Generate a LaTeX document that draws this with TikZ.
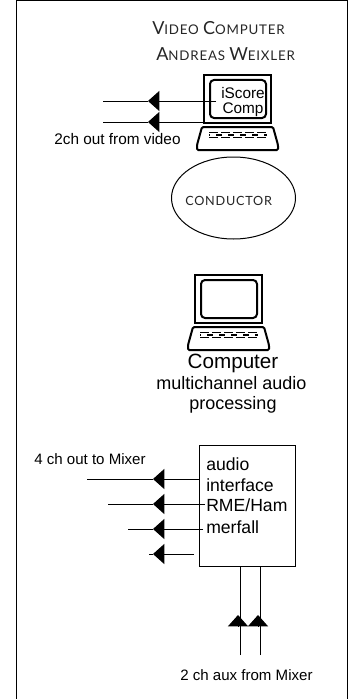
\documentclass[tikz,border=0pt]{standalone}
\usepackage{fontspec}
\setmainfont{Liberation Sans}
\newfontfamily\capsfont[LetterSpace=6]{Lato}
\usetikzlibrary{arrows.meta,shapes.geometric}
\newcommand{\capsword}[2]{{\fontsize{13.5}{16}\selectfont #1}{\fontsize{10}{16}\selectfont #2}}
\tikzset{
  wire/.style={line width=0.75pt},
  headwire/.style={line width=0.75pt,-{Triangle[length=8.5pt,width=15pt]}},
  lbl/.style={inner sep=0pt,font=\fontsize{11.5}{12}\selectfont},
  boxlbl/.style={inner sep=0pt,anchor=west,font=\fontsize{13.2}{14}\selectfont},
  mixlbl/.style={inner sep=0pt,anchor=west,font=\fontsize{11.3}{14}\selectfont},
  audiolbl/.style={inner sep=0pt,font=\fontsize{13.5}{14}\selectfont},
  capslbl/.style={inner sep=0pt,anchor=west,text=black!85,font=\capsfont},
  computer/.pic={
    \draw[line width=1.5pt] (0,0) rectangle (67,48);
    \draw[line width=1.5pt,rounded corners=3pt] (6,5) rectangle (62,43);
    \draw[line width=1.5pt,rounded corners=1pt] (-7,75) -- (-7,70) -- (-2,52) -- (69,52) -- (74,70) -- (74,75) -- cycle;
    \draw[line width=1.1pt,dash pattern=on 6.5pt off 2.5pt] (5,57.5) -- (63,57.5);
    \draw[line width=1.1pt,dash pattern=on 6.5pt off 2.5pt] (5,62.5) -- (63,62.5);
    \draw[line width=0.9pt,dash pattern=on 4pt off 5pt,dash phase=-5.5pt] (5,60) -- (63,60);
  }
}
\begin{document}
\begin{tikzpicture}[x=0.75pt,y=-0.75pt]
\useasboundingbox (0,0) rectangle (349,699);
\draw[line width=0.75pt] (16,699) -- (16,1) -- (347,1) -- (347,699);

% video computer
\node[capslbl] (vidtitle) at (152,28) {\capsword{V}{IDEO} \capsword{C}{OMPUTER}};
\node[capslbl] (vidname) at (156,54) {\capsword{A}{NDREAS} \capsword{W}{EIXLER}};
\pic at (204,75) {computer};
\node[lbl] (vidscreen1) at (243,93.5) {iScore};
\node[lbl] (vidscreen2) at (243,109.5) {Comp};
\node[lbl] (vidout) at (117.5,139.5) {2ch out from video};

\coordinate (vidstart1) at (216,101);
\coordinate (vidstart2) at (204,122);
\coordinate (vidtip1) at (148,101);
\coordinate (vidtip2) at (148,122);
\coordinate (vidend1) at (103,101);
\coordinate (vidend2) at (103,122);
\draw[headwire] (vidstart1) -- (vidtip1);
\draw[wire] (vidtip1) -- (vidend1);
\draw[headwire] (vidstart2) -- (vidtip2);
\draw[wire] (vidtip2) -- (vidend2);

\node[draw,ellipse,line width=0.75pt,minimum width=93pt,minimum height=61.5pt,inner sep=0pt] (conductor) at (233.5,198) {};
\node[capslbl,font=\capsfont\fontsize{9.5}{12}\selectfont] (conductorlbl) at (185,200.5) {CONDUCTOR};

% audio computer
\pic at (195,275) {computer};
\node[audiolbl,font=\fontsize{15.5}{16}\selectfont] (audiotitle) at (233,363) {Computer};
\node[audiolbl] (audiosub1) at (231.5,383.5) {multichannel audio};
\node[audiolbl] (audiosub2) at (233,404.5) {processing};

% interface
\node[draw,line width=0.75pt,minimum width=72pt,minimum height=90.75pt,inner sep=0pt] (iface) at (247,505.5) {};
\node[boxlbl] (ifacel1) at (206,464.5) {audio};
\node[boxlbl] (ifacel2) at (206,485) {interface};
\node[boxlbl] (ifacel3) at (206,505.5) {RME/Ham};
\node[boxlbl] (ifacel4) at (206,527) {merfall};
\node[mixlbl] (mixout) at (34,459) {4 ch out to Mixer};
\node[mixlbl] (mixaux) at (180,675) {2 ch aux from Mixer};

\coordinate (outstart1) at (199,479);
\coordinate (outstart2) at (205,504);
\coordinate (outstart3) at (203,529);
\coordinate (outstart4) at (194,554);
\coordinate (outtip1) at (153,479);
\coordinate (outtip2) at (153,504);
\coordinate (outtip3) at (153,529);
\coordinate (outtip4) at (153,554);
\coordinate (outend1) at (87,479);
\coordinate (outend2) at (107.5,504);
\coordinate (outend3) at (128,529);
\coordinate (outend4) at (148.5,554);
\foreach \i in {1,2,3,4}{
  \draw[headwire] (outstart\i) -- (outtip\i);
  \draw[wire] (outtip\i) -- (outend\i);
}

\coordinate (auxstart1) at (240,655);
\coordinate (auxstart2) at (260.7,655);
\coordinate (auxend1) at (240,566);
\coordinate (auxend2) at (260.7,566);
\coordinate (auxbase1) at (238,626);
\coordinate (auxbase2) at (258,626);
\coordinate (auxtip1) at (238,615);
\coordinate (auxtip2) at (258,615);
\foreach \i in {1,2}{
  \draw[wire] (auxstart\i) -- (auxend\i);
  \draw[headwire] (auxbase\i) -- (auxtip\i);
}
\end{tikzpicture}
\end{document}
